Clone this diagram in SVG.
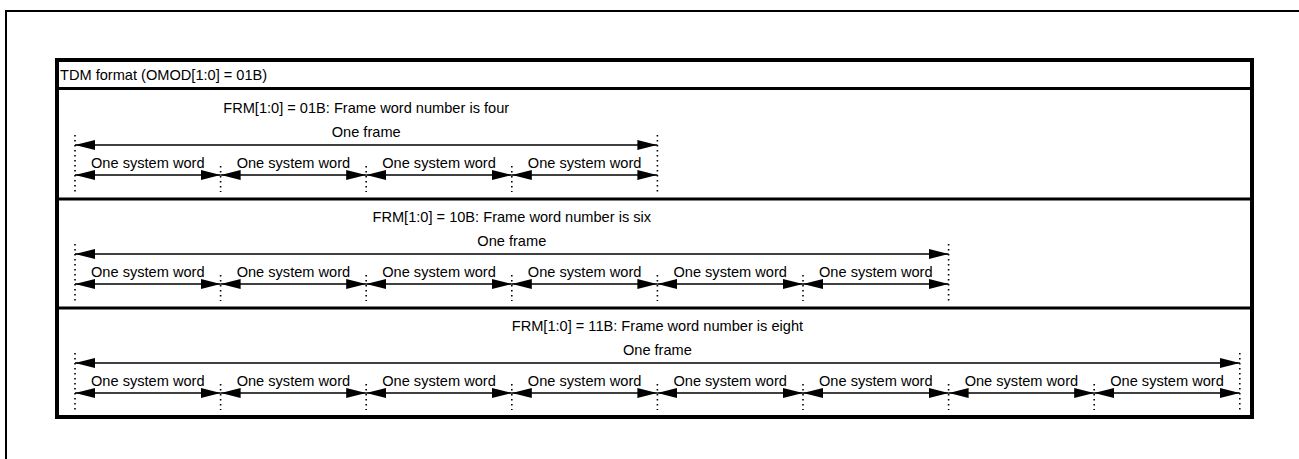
<svg xmlns="http://www.w3.org/2000/svg" width="1299" height="459" viewBox="0 0 1299 459">
<style>
text{font-family:"Liberation Sans",Arial,sans-serif;font-size:14.6px;fill:#000}
.mid{text-anchor:middle}
.arr{stroke:#000;stroke-width:1.3;fill:none;marker-start:url(#ah);marker-end:url(#ah)}
.dot{stroke:#000;stroke-width:1.6;stroke-dasharray:1.6 3.4;fill:none}
.box{fill:none;stroke:#000}
</style>
<defs>
<marker id="ah" markerUnits="userSpaceOnUse" markerWidth="20" markerHeight="10" refX="20" refY="5" orient="auto-start-reverse" viewBox="0 0 20 10">
<path d="M0,0 L20,5 L0,10 z" fill="#000"/>
</marker>
</defs>
<rect width="1299" height="459" fill="#fff"/>
<g id="outer-frame">
<path class="box" stroke-width="2" d="M6,470 V11 H1310"/>
</g>
<g id="tdm-box">
<rect class="box" stroke-width="4" x="57" y="60" width="1195" height="357"/>
<line class="box" stroke-width="3" x1="57" y1="88.5" x2="1252" y2="88.5"/>
<line class="box" stroke-width="3" x1="57" y1="199" x2="1252" y2="199"/>
<line class="box" stroke-width="3" x1="57" y1="308" x2="1252" y2="308"/>
<text x="60" y="79.5">TDM format (OMOD[1:0] = 01B)</text>
</g>
<g id="section-four">
<text class="mid" x="366.2" y="112.5">FRM[1:0] = 01B: Frame word number is four</text>
<text class="mid" x="366.2" y="136.5">One frame</text>
<text class="mid" x="147.8" y="167.5">One system word</text>
<text class="mid" x="293.4" y="167.5">One system word</text>
<text class="mid" x="439" y="167.5">One system word</text>
<text class="mid" x="584.6" y="167.5">One system word</text>
</g>
<g id="section-six">
<text class="mid" x="511.8" y="221.5">FRM[1:0] = 10B: Frame word number is six</text>
<text class="mid" x="511.8" y="245.5">One frame</text>
<text class="mid" x="147.8" y="276.5">One system word</text>
<text class="mid" x="293.4" y="276.5">One system word</text>
<text class="mid" x="439" y="276.5">One system word</text>
<text class="mid" x="584.6" y="276.5">One system word</text>
<text class="mid" x="730.2" y="276.5">One system word</text>
<text class="mid" x="875.8" y="276.5">One system word</text>
</g>
<g id="section-eight">
<text class="mid" x="657.4" y="330.5">FRM[1:0] = 11B: Frame word number is eight</text>
<text class="mid" x="657.4" y="354.5">One frame</text>
<text class="mid" x="147.8" y="385.5">One system word</text>
<text class="mid" x="293.4" y="385.5">One system word</text>
<text class="mid" x="439" y="385.5">One system word</text>
<text class="mid" x="584.6" y="385.5">One system word</text>
<text class="mid" x="730.2" y="385.5">One system word</text>
<text class="mid" x="875.8" y="385.5">One system word</text>
<text class="mid" x="1021.4" y="385.5">One system word</text>
<text class="mid" x="1167" y="385.5">One system word</text>
</g>
<g id="connectors">
<g id="dots">
<path class="dot" d="M75,135V192 M220.6,166V192 M366.2,166V192 M511.8,166V192 M657.4,135V192"/>
<path class="dot" d="M75,244V301 M220.6,275V301 M366.2,275V301 M511.8,275V301 M657.4,275V301 M803,275V301 M948.6,244V301"/>
<path class="dot" d="M75,353V410 M220.6,384V410 M366.2,384V410 M511.8,384V410 M657.4,384V410 M803,384V410 M948.6,384V410 M1094.2,384V410 M1239.8,353V410"/>
</g>
<line class="arr" x1="75" y1="145" x2="657.4" y2="145"/>
<line class="arr" x1="75" y1="175" x2="220.6" y2="175"/>
<line class="arr" x1="220.6" y1="175" x2="366.2" y2="175"/>
<line class="arr" x1="366.2" y1="175" x2="511.8" y2="175"/>
<line class="arr" x1="511.8" y1="175" x2="657.4" y2="175"/>
<line class="arr" x1="75" y1="254" x2="948.6" y2="254"/>
<line class="arr" x1="75" y1="284" x2="220.6" y2="284"/>
<line class="arr" x1="220.6" y1="284" x2="366.2" y2="284"/>
<line class="arr" x1="366.2" y1="284" x2="511.8" y2="284"/>
<line class="arr" x1="511.8" y1="284" x2="657.4" y2="284"/>
<line class="arr" x1="657.4" y1="284" x2="803" y2="284"/>
<line class="arr" x1="803" y1="284" x2="948.6" y2="284"/>
<line class="arr" x1="75" y1="363" x2="1239.8" y2="363"/>
<line class="arr" x1="75" y1="393" x2="220.6" y2="393"/>
<line class="arr" x1="220.6" y1="393" x2="366.2" y2="393"/>
<line class="arr" x1="366.2" y1="393" x2="511.8" y2="393"/>
<line class="arr" x1="511.8" y1="393" x2="657.4" y2="393"/>
<line class="arr" x1="657.4" y1="393" x2="803" y2="393"/>
<line class="arr" x1="803" y1="393" x2="948.6" y2="393"/>
<line class="arr" x1="948.6" y1="393" x2="1094.2" y2="393"/>
<line class="arr" x1="1094.2" y1="393" x2="1239.8" y2="393"/>
</g>
</svg>
